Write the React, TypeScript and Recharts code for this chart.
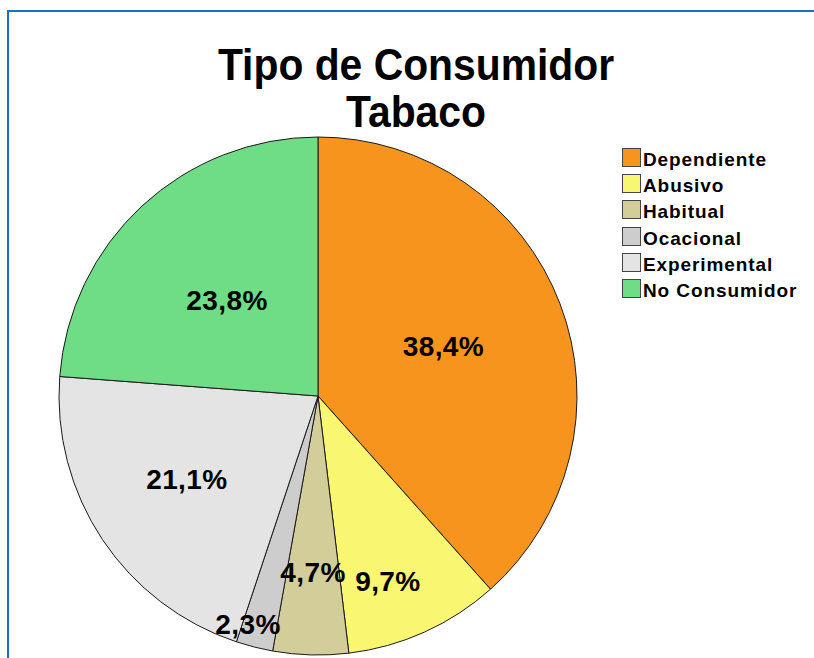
import React from 'react';
import { PieChart, Pie, Cell, Legend } from 'recharts';

const categories = ['Dependiente', 'Abusivo', 'Habitual', 'Ocacional', 'Experimental', 'No Consumidor'];
const percentages = [38.4, 9.7, 4.7, 2.3, 21.1, 23.8];
const sliceColors = ['#F7941E', '#F9F772', '#D3CD99', '#CDCDCD', '#E4E4E4', '#6FDC86'];
const titleLines = ['Tipo de Consumidor', 'Tabaco'];

// label placement (SPSS-style): distance from centre as a fraction of the radius,
// and a small clockwise nudge in degrees from the slice's mid-angle
const labelRadiusFactors = [0.52, 0.764, 0.68, 0.923, 0.6, 0.51];
const labelAngleNudges = [-0.5, 3.6, 0, 2.8, 1.2, -0.7];

const data = categories.map((name, i) => ({ name, value: percentages[i], fill: sliceColors[i] }));

const RAD = Math.PI / 180;
const FONT = '"Liberation Sans", Arial, Helvetica, sans-serif';

const fmt = (v: number) => v.toFixed(1).replace('.', ',') + '%';

const renderLabel = (props: any) => {
  const { cx, cy, midAngle, outerRadius, index, value } = props;
  const r = outerRadius * labelRadiusFactors[index];
  const a = midAngle - labelAngleNudges[index];
  const x = cx + r * Math.cos(-a * RAD);
  const y = cy + r * Math.sin(-a * RAD);
  return (
    <text
      x={x}
      y={y}
      textAnchor="middle"
      dominantBaseline="central"
      fill="#000"
      style={{ fontFamily: FONT, fontWeight: 700, fontSize: 28, letterSpacing: 0.4 }}
    >
      {fmt(value)}
    </text>
  );
};

const renderLegend = () => (
  <div style={{ fontFamily: FONT }}>
    {categories.map((name, i) => (
      <div key={name} style={{ position: 'relative', height: 26.4, lineHeight: '26.4px' }}>
        <div
          style={{
            position: 'absolute',
            left: 0,
            top: 1,
            width: 19,
            height: 19,
            boxSizing: 'border-box',
            border: '1px solid #444',
            background: sliceColors[i],
          }}
        />
        <span
          style={{
            paddingLeft: 21,
            fontSize: 19,
            fontWeight: 700,
            letterSpacing: 0.9,
            color: '#000',
            whiteSpace: 'nowrap',
          }}
        >
          {name}
        </span>
      </div>
    ))}
  </div>
);

export default function App() {
  return (
    <div style={{ position: 'absolute', left: 0, top: 0, width: 814, height: 658, background: '#fff', overflow: 'hidden' }}>
      <div
        style={{
          position: 'absolute',
          left: 7,
          top: 10,
          right: 0,
          bottom: 0,
          borderTop: '2px solid #1672C8',
          borderLeft: '2px solid #1672C8',
        }}
      />
      <div
        style={{
          position: 'absolute',
          left: 0,
          top: 41,
          width: 832,
          textAlign: 'center',
          fontFamily: FONT,
          fontWeight: 700,
          fontSize: 44,
          lineHeight: '47px',
          color: '#000',
          transform: 'scaleX(0.928)',
          transformOrigin: '416px 0',
        }}
      >
        {titleLines.map((t) => (
          <div key={t}>{t}</div>
        ))}
      </div>
      <div style={{ position: 'absolute', left: 0, top: 0 }}>
        <PieChart width={814} height={658} margin={{ top: 0, right: 0, bottom: 0, left: 0 }}>
          <Pie
            data={data}
            dataKey="value"
            nameKey="name"
            cx={318}
            cy={396}
            outerRadius={259}
            startAngle={90}
            endAngle={-270}
            stroke="#1a1a1a"
            strokeWidth={1}
            label={renderLabel}
            labelLine={false}
            isAnimationActive={false}
          >
            {data.map((d) => (
              <Cell key={d.name} fill={d.fill} />
            ))}
          </Pie>
          <Legend
            layout="vertical"
            verticalAlign="top"
            align="right"
            content={renderLegend}
            wrapperStyle={{ left: 622, top: 146.5, right: 'auto', width: 190 }}
          />
        </PieChart>
      </div>
    </div>
  );
}
